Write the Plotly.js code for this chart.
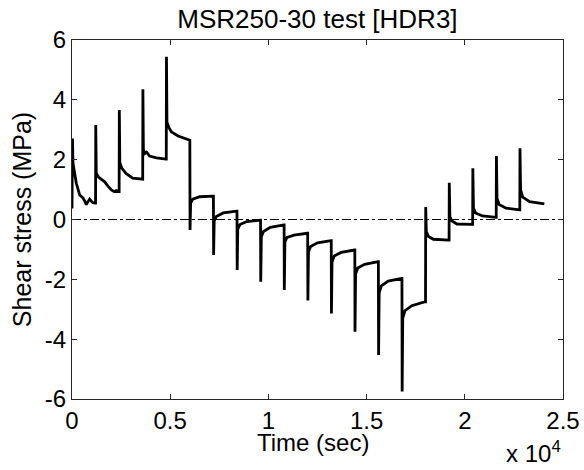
<!DOCTYPE html>
<html>
<head>
<meta charset="utf-8">
<script src="https://cdn.plot.ly/plotly-3.0.1.min.js"></script>
<style>html,body{margin:0;padding:0;background:#fff;}#chart{width:584px;height:470px;}</style>
</head>
<body>
<div id="chart"></div>
<script>
// Time (s) and shear stress (MPa)
const timeSec = [
  0, 25, 50, 120, 220, 390, 560, 645, 730, 820, 900, 1000, 1070, 1190,
  1200, 1210, 1235, 1350, 1500, 1665, 1850, 2005, 2150, 2250, 2390,
  2400, 2410, 2435, 2550, 2750, 3090, 3590,
  3600, 3610, 3635, 3700, 3800, 3950, 4300, 4790,
  4800, 4810, 4835, 4950, 5060, 5400, 5910, 5990,
  6000, 6010, 6040, 6150, 6500, 7190,
  7200, 7210, 7240, 7350, 7700, 8390,
  8400, 8410, 8440, 8550, 8900, 9590,
  9600, 9610, 9640, 9750, 10100, 10790,
  10800, 10810, 10840, 10950, 11300, 11990,
  12000, 12010, 12040, 12150, 12500, 13190,
  13200, 13210, 13240, 13350, 13700, 14390,
  14400, 14410, 14440, 14550, 14900, 15590,
  15600, 15610, 15640, 15750, 16100, 16790,
  16800, 16810, 16840, 16950, 17300, 17990,
  18000, 18010, 18040, 18150, 18400, 19190,
  19200, 19210, 19240, 19350, 19600, 20390,
  20400, 20410, 20440, 20550, 20900, 21590,
  21600, 21610, 21640, 21750, 22100, 22790,
  22800, 22810, 22840, 22950, 23300, 24050
];
const shearMPa = [
  0.37, 2.71, 1.9, 1.6, 1.21, 0.82, 0.72, 0.62, 0.5, 0.6, 0.68, 0.6, 0.56, 0.55,
  0.55, 3.16, 1.55, 1.42, 1.35, 1.26, 1.1, 0.99, 0.93, 0.97, 0.93,
  0.93, 3.66, 1.9, 1.7, 1.54, 1.38, 1.35,
  1.35, 4.35, 2.35, 2.2, 2.25, 2.12, 2.06, 2.02,
  2.02, 5.44, 3.25, 3.05, 2.93, 2.79, 2.68, 2.65,
  2.65, -0.35, 0.55, 0.68, 0.76, 0.78,
  0.78, -1.19, -0.05, 0.1, 0.22, 0.28,
  0.28, -1.69, -0.32, -0.17, -0.07, -0.02,
  -0.02, -2.08, -0.58, -0.4, -0.26, -0.18,
  -0.18, -2.36, -0.75, -0.6, -0.52, -0.46,
  -0.46, -2.71, -1.08, -0.9, -0.78, -0.71,
  -0.71, -3.14, -1.42, -1.22, -1.1, -1.02,
  -1.02, -3.75, -1.82, -1.62, -1.5, -1.41,
  -1.41, -4.53, -2.45, -2.22, -2.06, -1.97,
  -1.97, -5.75, -3.3, -3.05, -2.88, -2.75,
  -2.75, 0.42, -0.4, -0.57, -0.66, -0.69,
  -0.69, 1.23, 0.1, -0.05, -0.15, -0.16,
  -0.16, 1.71, 0.38, 0.22, 0.12, 0.07,
  0.07, 2.12, 0.7, 0.5, 0.38, 0.32,
  0.32, 2.38, 1.0, 0.75, 0.6, 0.52
];
const xTickVals = [0, 5000, 10000, 15000, 20000, 25000];
const xTickText = ['0', '0.5', '1', '1.5', '2', '2.5'];
const yTickVals = [-6, -4, -2, 0, 2, 4, 6];
const yTickText = ['-6', '-4', '-2', '0', '2', '4', '6'];

const FONT = 'Liberation Sans, Arial, Helvetica, sans-serif';
const axisCommon = {
  showgrid: false, zeroline: false, showline: true, linecolor: '#262626', linewidth: 1,
  mirror: 'ticks', ticks: 'inside', ticklen: 5, tickwidth: 1, tickcolor: '#262626',
  tickfont: {family: FONT, size: 24, color: '#000'}
};
const layout = {
  width: 584, height: 470,
  margin: {l: 72, r: 21, t: 40, b: 71},
  paper_bgcolor: '#fff', plot_bgcolor: '#fff',
  showlegend: false,
  title: {text: 'MSR250-30 test [HDR3]', font: {family: FONT, size: 26, color: '#000'},
          x: 0.5435, xanchor: 'center', y: 1 - 19/470, yanchor: 'middle', yref: 'container'},
  xaxis: Object.assign({}, axisCommon, {
    range: [0, 25000], tickmode: 'array', tickvals: xTickVals, ticktext: xTickText
  }),
  yaxis: Object.assign({}, axisCommon, {
    range: [-6, 6], tickmode: 'array', tickvals: yTickVals, ticktext: yTickText,
    title: {text: 'Shear stress (MPa)', font: {family: FONT, size: 25, color: '#000'}, standoff: 6}
  }),
  shapes: [{type: 'line', xref: 'paper', x0: 0, x1: 1, yref: 'y', y0: 0, y1: 0,
            line: {color: '#000', width: 1, dash: 'dashdot'}, layer: 'below'}],
  annotations: [
    {text: 'Time (sec)', xref: 'paper', yref: 'paper', x: 0.49, y: -(443 - 399.3) / 359,
     xanchor: 'center', yanchor: 'middle', showarrow: false,
     font: {family: FONT, size: 24, color: '#000'}},
    {text: 'x 10<sup>4</sup>', xref: 'paper', yref: 'paper', x: 1.0, y: -(469 - 399.3) / 359,
     xanchor: 'right', yanchor: 'bottom', showarrow: false,
     font: {family: FONT, size: 24, color: '#000'}}
  ]
};
const data = [{
  type: 'scatter', mode: 'lines', x: timeSec, y: shearMPa,
  line: {color: '#000', width: 2.8}, hoverinfo: 'skip'
}];
Plotly.newPlot('chart', data, layout, {staticPlot: true, displayModeBar: false});
</script>
</body>
</html>
